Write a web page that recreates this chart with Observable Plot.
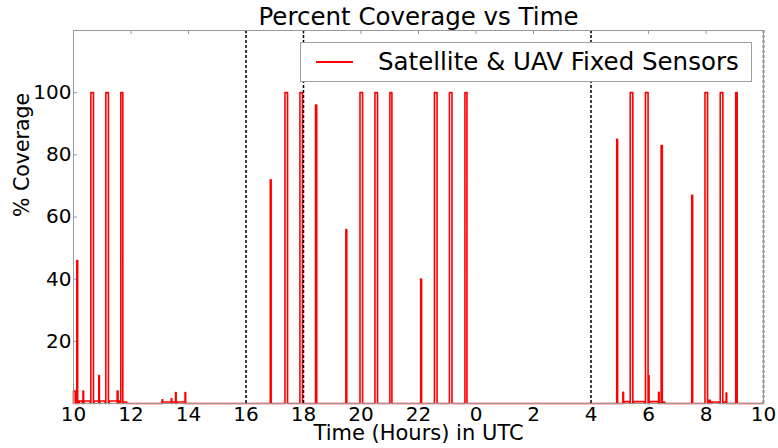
<!DOCTYPE html>
<html>
<head>
<meta charset="utf-8">
<script src="https://cdn.jsdelivr.net/npm/d3@7"></script>
<script src="https://cdn.jsdelivr.net/npm/@observablehq/plot@0.6"></script>
<style>
  html, body { margin: 0; padding: 0; background: #fff; }
  #wrap { position: relative; width: 778px; height: 448px; font-family: "DejaVu Sans", sans-serif; }
  #legend { position: absolute; left: 300px; top: 42px; width: 452px; height: 40px; border: 1px solid #a0a0a0; background: #fff; box-sizing: border-box; }
  #legend .swatch { position: absolute; left: 15px; top: 18px; width: 37px; height: 2px; background: #ff0000; }
  #legend .label { position: absolute; left: 77px; top: 4px; font-size: 24.5px; color: #000; white-space: nowrap; line-height: 30px; }
</style>
</head>
<body>
<div id="wrap"></div>
<script>
// Series name
const seriesName = "Satellite & UAV Fixed Sensors";
// Pulses of coverage: start hour, end hour (hours since 00 UTC of day 1, >24 = next day), peak %
const pulseStart = [10.0, 10.115, 10.2, 10.33, 10.37, 10.605, 10.72, 10.88, 10.92, 11.125, 11.24, 11.52, 11.57, 11.645, 11.73,
  13.08, 13.1, 13.4, 13.42, 13.55, 13.6, 13.88,
  16.845, 17.355, 17.875, 18.42, 19.475, 19.965, 20.485, 21.005, 22.075, 22.555, 23.075, 23.615,
  28.895, 29.11, 29.15, 29.365, 29.48, 29.895, 30.0, 30.04, 30.35, 30.44, 30.5,
  31.505, 31.965, 32.1, 32.2, 32.495, 32.6, 32.7, 33.035];
const pulseEnd = [10.07, 10.145, 10.3, 10.35, 10.58, 10.695, 10.88, 10.9, 11.1, 11.215, 11.52, 11.55, 11.62, 11.715, 11.85,
  13.1, 13.4, 13.42, 13.55, 13.57, 13.88, 13.9,
  16.875, 17.445, 17.965, 18.46, 19.505, 20.055, 20.575, 21.075, 22.105, 22.645, 23.165, 23.685,
  28.925, 29.13, 29.34, 29.455, 29.87, 29.985, 30.02, 30.34, 30.37, 30.48, 30.56,
  31.535, 32.055, 32.15, 32.45, 32.585, 32.7, 32.72, 33.085];
const pulsePeak = [4, 46, 0.8, 4, 0.8, 100, 0.8, 9, 0.8, 100, 0.8, 4, 0.8, 100, 0.5,
  1.2, 0.5, 1.5, 0.5, 3.5, 0.5, 3.5,
  72, 100, 100, 96, 56, 100, 100, 100, 40, 100, 100, 100,
  85, 3.6, 0.6, 100, 0.6, 100, 9, 0.6, 3.6, 83, 0.5,
  67, 100, 1, 0.5, 100, 0.5, 3.4, 100];
// Axis domain and ticks
const xDomain = [10, 34];
const xTicks = [10, 12, 14, 16, 18, 20, 22, 24, 26, 28, 30, 32, 34];
const xTickLabels = ["10", "12", "14", "16", "18", "20", "22", "0", "2", "4", "6", "8", "10"];
const yDomain = [0, 120];
const yTicks = [20, 40, 60, 80, 100];
// Vertical dashed reference lines
const dashLines = [16, 18, 28, 34];

// Build the line table (rectangular pulses on a zero baseline)
const pts = [{t: xDomain[0], v: 0}];
pulseStart.map((s, i) => ({s, e: pulseEnd[i], p: pulsePeak[i]}))
  .sort((a, b) => a.s - b.s)
  .forEach(d => {
    pts.push({t: d.s, v: 0}, {t: d.s, v: d.p}, {t: d.e, v: d.p}, {t: d.e, v: 0});
  });
pts.push({t: xDomain[1], v: 0});

const W = 778, H = 448, mL = 73, mR = 15, mT = 30, mB = 45;
const innerH = H - mT - mB, innerW = W - mL - mR;

const chart = Plot.plot({
  width: W, height: H,
  marginLeft: mL, marginRight: mR, marginTop: mT, marginBottom: mB,
  style: {fontFamily: "DejaVu Sans, sans-serif", fontSize: "20px", color: "#000", background: "#fff"},
  x: {domain: xDomain, ticks: xTicks, tickFormat: d => xTickLabels[xTicks.indexOf(d)], label: null},
  y: {domain: yDomain, ticks: yTicks, label: null},
  marks: [
    Plot.axisX({ticks: xTicks, tickFormat: d => xTickLabels[xTicks.indexOf(d)], tickSize: 0, tickPadding: 3, label: null}),
    Plot.axisY({ticks: yTicks, tickSize: 0, tickPadding: 2, label: null}),
    Plot.ruleX(xTicks, {stroke: "#999", insetBottom: innerH - 4}),
    Plot.ruleY(yTicks, {stroke: "#999", insetRight: innerW - 4}),
    Plot.line(pts, {x: "t", y: "v", stroke: "#ff0000", strokeWidth: 1.6}),
    Plot.ruleX(dashLines, {stroke: "#000", strokeWidth: 1.5, strokeDasharray: "3,2"}),
    Plot.frame({stroke: "#999", strokeWidth: 1}),
    Plot.text(["Percent Coverage vs Time"], {frameAnchor: "top", lineAnchor: "middle", dy: -13, fontSize: 24.5, text: d => d}),
    Plot.text(["Time (Hours) in UTC"], {frameAnchor: "bottom", lineAnchor: "middle", dy: 30, fontSize: 21, text: d => d}),
    Plot.text(["% Coverage"], {frameAnchor: "left", lineAnchor: "middle", dx: -51, rotate: -90, fontSize: 20.5, text: d => d})
  ]
});

const wrap = document.getElementById("wrap");
wrap.appendChild(chart);
const legend = document.createElement("div");
legend.id = "legend";
legend.innerHTML = `<div class="swatch"></div><div class="label"></div>`;
legend.querySelector(".label").textContent = seriesName;
wrap.appendChild(legend);
</script>
</body>
</html>
